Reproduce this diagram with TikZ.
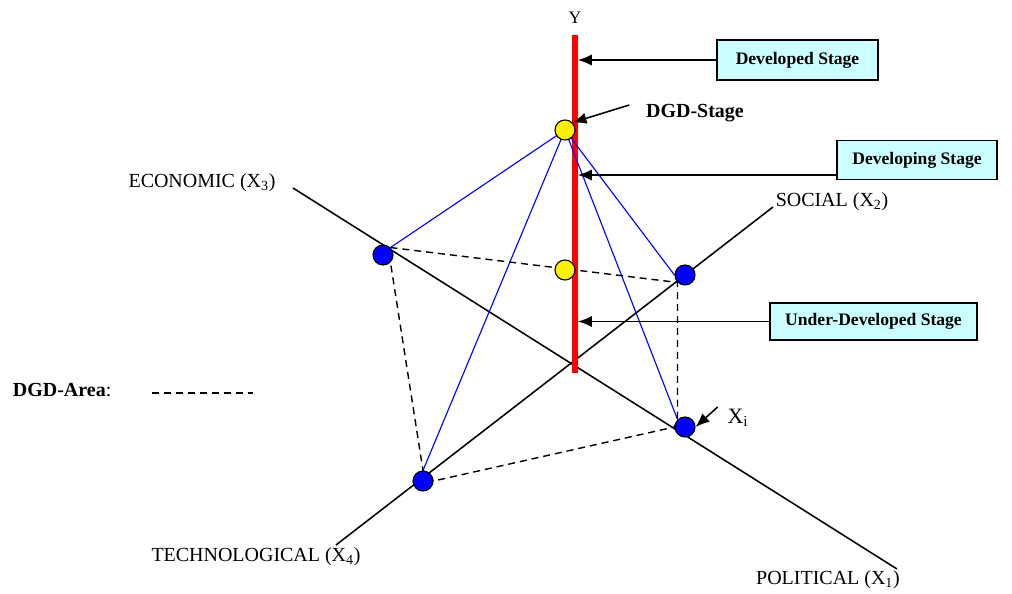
\documentclass[tikz,border=0pt]{standalone}
\usepackage{fontspec}
\setmainfont{Liberation Serif}
\usetikzlibrary{arrows.meta,backgrounds}
\definecolor{boxcyan}{RGB}{204,255,255}
\tikzset{
  axis/.style={line width=1.1pt},
  blueball/.style={circle,draw,line width=0.8pt,fill=blue,minimum size=0.5cm,inner sep=0pt},
  yellowball/.style={circle,draw,line width=0.8pt,fill=yellow,minimum size=0.5cm,inner sep=0pt},
  stagebox/.style={draw,line width=1.1pt,fill=boxcyan,inner sep=0pt,
    font=\fontsize{12.5}{15}\selectfont\bfseries},
  ptr/.style={-{Latex[length=10pt,width=8pt]},line width=1.1pt},
  area/.style={line width=1pt,dash pattern=on 5pt off 3.5pt},
  axlabel/.style={font=\fontsize{14.2}{17}\selectfont}
}
\begin{document}
\begin{tikzpicture}[x=0.025cm,y=-0.025cm]
    \useasboundingbox (0,0) rectangle (1012,593);
    % axes end points
    \coordinate (e1) at (293,188);
    \coordinate (e2) at (897,569);
    \coordinate (s1) at (773,207);
    \coordinate (s2) at (336,545);
    \coordinate (ytop) at (575,35);
    \coordinate (ybot) at (575,373);
    % points
    \node[blueball] (econ) at (383,255) {};
    \node[blueball] (social) at (685,275) {};
    \node[blueball] (polit) at (685,427) {};
    \node[blueball] (techno) at (423,481) {};
    \node[yellowball] (dgd) at (565,130) {};
    \node[yellowball] (mid) at (565,270) {};
    \begin{scope}[on background layer]
      \draw[axis] (e1) -- (e2);
      \draw[axis] (s1) -- (s2);
      \draw[red,line width=4.3pt] (ytop) -- (ybot);
      \draw[blue,line width=0.8pt] (dgd.center) -- (econ.north east);
      \draw[blue,line width=0.8pt] (dgd.center) -- (techno.north);
      \draw[blue,line width=0.8pt] (dgd.center) -- (polit.north west);
      \draw[blue,line width=0.8pt] (dgd.center) -- (social.west);
      \draw[area] (econ.north east) -- (social.south west)
        -- (social.south west |- polit.north west) -- (polit.west)
        -- (techno.east) -- (techno.north) -- (econ.south east);
    \end{scope}
    % labels
    \node[font=\fontsize{12.5}{14}\selectfont] (ylbl) at (575,18) {Y};
    \node[axlabel] (econlbl) at (202,183) {ECONOMIC (X\textsubscript{3})};
    \node[axlabel] (soclbl) at (832,202) {SOCIAL (X\textsubscript{2})};
    \node[axlabel] (techlbl) at (256,557) {TECHNOLOGICAL (X\textsubscript{4})};
    \node[axlabel] (pollbl) at (828,580) {POLITICAL (X\textsubscript{1})};
    \node[font=\fontsize{15.6}{18}\selectfont] (xilbl) at (738,418) {X\textsubscript{i}};
    \node[axlabel,font=\fontsize{14.2}{17}\selectfont\bfseries] (dgdlbl) at (695,113) {DGD-Stage};
    \node[axlabel,anchor=west] (arealbl) at (8,390) {\textbf{DGD-Area}:};
    \draw[area] (152,393) -- (253,393);
    % stage boxes
    \node[stagebox,minimum width=4.025cm,minimum height=1cm] (devbox) at (797.5,60) {Developed Stage};
    \node[stagebox,minimum width=4cm,minimum height=0.975cm] (devgbox) at (917,160) {Developing Stage};
    \node[stagebox,minimum width=5.175cm,minimum height=0.925cm] (undbox) at (873.5,321.5) {Under-Developed Stage};
    % pointers
    \draw[ptr,shorten >=2pt] (devbox.west) -- (devbox.west -| ytop);
    \draw[ptr,shorten >=2pt] ([yshift=-0.375cm]devgbox.west) -- ([yshift=-0.375cm]devgbox.west -| ytop);
    \draw[ptr,shorten >=2pt] (undbox.west) -- (undbox.west -| ytop);
    \draw[ptr] ([shift={(-12,-8)}]dgdlbl.west) -- (dgd.north east);
    \draw[ptr] ([shift={(22,-20)}]polit.east) -- (polit.east);
\end{tikzpicture}
\end{document}
